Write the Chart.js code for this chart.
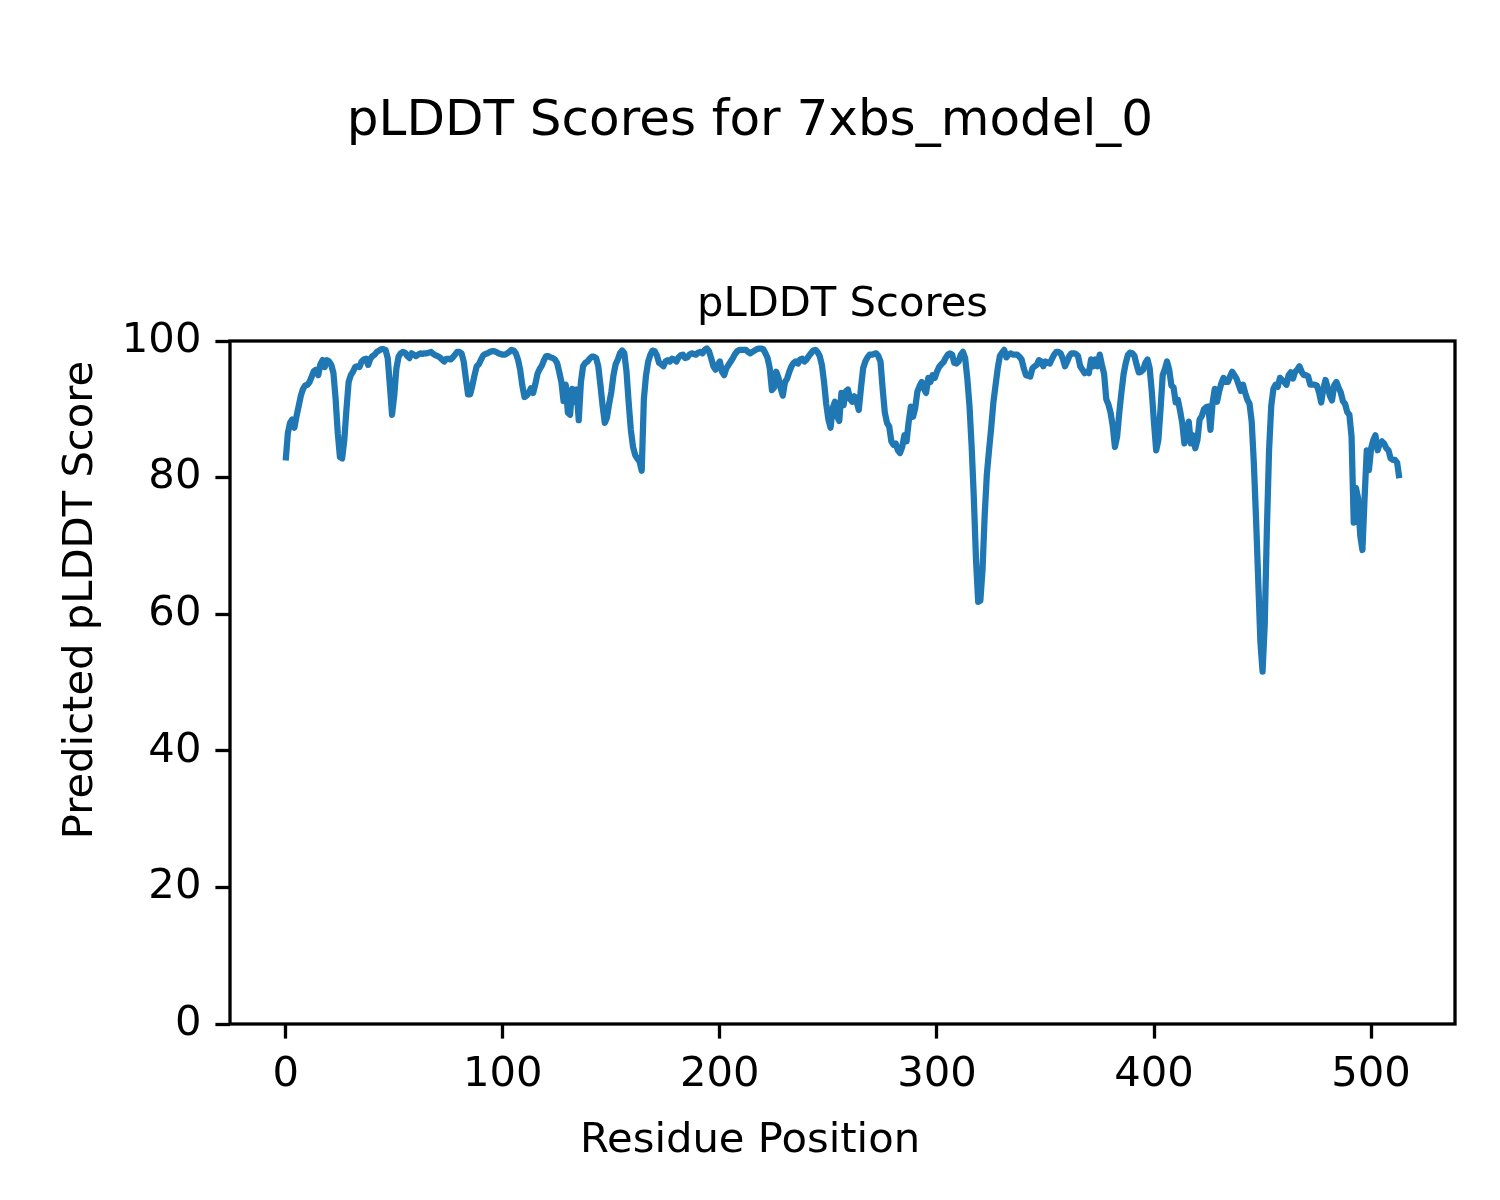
<!DOCTYPE html>
<html>
<head>
<meta charset="utf-8">
<title>pLDDT Scores for 7xbs_model_0</title>
<script src="https://cdn.jsdelivr.net/npm/chart.js@4.4.1/dist/chart.umd.min.js"></script>
<style>
  html, body { margin: 0; padding: 0; background: #fff; }
  canvas { display: block; }
</style>
</head>
<body>
<canvas id="myChart" width="1500" height="1200"></canvas>
<script>
// pLDDT per residue (residues 0..513)
const plddt = [
  82.5, 86.5, 88.0, 88.5, 87.3, 89.0, 90.5, 92.0, 93.0, 93.5,
  93.6, 94.0, 94.8, 95.6, 95.8, 95.0, 96.6, 97.2, 96.2, 97.2,
  97.0, 96.5, 95.3, 91.5, 86.5, 83.0, 82.8, 85.5, 90.0, 94.0,
  95.0, 95.5, 96.2, 96.3, 96.2, 97.0, 97.3, 97.4, 96.5, 97.4,
  97.8, 98.0, 98.4, 98.6, 98.8, 98.8, 98.7, 97.5, 93.5, 89.2,
  92.0, 96.0, 97.7, 98.2, 98.4, 98.3, 97.8, 97.5, 98.2, 98.0,
  97.8, 98.0, 98.2, 98.1, 98.2, 98.2, 98.3, 98.4, 98.1, 97.9,
  97.8, 97.6, 97.3, 97.0, 97.4, 97.4, 97.3, 97.6, 98.0, 98.4,
  98.4, 98.2, 97.0, 94.5, 92.2, 92.2, 93.5, 95.0, 96.3, 96.6,
  97.3, 97.9, 98.1, 98.2, 98.4, 98.5, 98.5, 98.4, 98.2, 98.1,
  98.0, 98.0, 98.2, 98.4, 98.7, 98.6, 98.2, 97.3, 95.8, 93.5,
  91.8, 92.0, 92.4, 93.1, 92.4, 93.7, 95.2, 95.9, 96.4, 97.2,
  97.8, 97.8, 97.6, 97.5, 97.3, 96.8, 95.5, 94.0, 91.2, 93.6,
  89.5, 89.2, 93.0, 91.1, 92.9, 88.4, 94.0, 96.3, 96.8, 97.0,
  97.4, 97.7, 97.7, 97.5, 96.3, 93.5, 90.5, 88.0, 88.8, 90.8,
  92.5, 95.0, 96.6, 97.3, 98.2, 98.6, 98.2, 95.5, 91.0, 87.0,
  84.5, 83.3, 82.8, 82.4, 81.0, 91.5, 95.0, 97.0, 98.0, 98.6,
  98.5, 97.9, 96.8, 96.6, 96.3, 97.0, 97.2, 97.0, 97.4, 97.3,
  97.0, 97.6, 97.9, 98.0, 97.5, 97.6, 98.0, 98.2, 98.1, 98.0,
  98.3, 98.4, 98.2, 98.7, 98.9, 98.5, 97.5, 96.3, 95.8, 96.5,
  97.0, 95.5, 95.0, 96.0, 96.5, 97.0, 97.5, 98.1, 98.5, 98.7,
  98.7, 98.7, 98.7, 98.4, 98.2, 98.4, 98.6, 98.8, 98.9, 98.9,
  98.8, 98.2, 97.5, 96.0, 92.8, 93.2, 95.5, 94.6, 93.1, 92.0,
  94.0, 94.5, 95.5, 96.3, 96.8, 97.0, 96.7, 97.3, 97.4, 97.0,
  97.3, 97.8, 98.2, 98.6, 98.7, 98.4, 97.8, 96.5, 94.0, 90.8,
  88.5, 87.3, 90.2, 91.1, 89.0, 88.3, 92.4, 90.6, 92.6, 92.9,
  91.5, 91.1, 91.9, 91.1, 89.9, 93.1, 96.0, 97.0, 97.6, 98.0,
  98.0, 98.1, 98.2, 97.8, 97.0, 93.0, 89.5, 88.0, 87.5, 85.3,
  84.8, 85.0, 84.0, 83.6, 84.5, 86.2, 85.3, 88.2, 90.4, 88.9,
  90.2, 92.6, 93.4, 94.0, 93.0, 92.4, 94.6, 94.0, 95.0, 94.6,
  95.5, 96.2, 96.6, 96.9, 97.5, 98.0, 98.2, 98.0, 96.8, 96.7,
  97.0, 98.0, 98.4, 97.5, 94.5, 90.5, 84.5, 77.0, 68.0, 61.8,
  62.0, 66.5, 74.5, 80.5, 84.0, 87.3, 91.0, 93.5, 96.0, 97.8,
  98.3, 98.7, 97.6, 98.0, 98.2, 98.0, 98.0, 98.0, 97.7, 97.3,
  96.0, 95.0, 94.9, 94.8, 96.0, 96.3, 96.5, 97.2, 97.0, 96.3,
  97.0, 96.8, 96.7, 97.4, 98.0, 98.4, 98.4, 98.2, 97.4, 96.3,
  97.0, 97.8, 98.2, 98.2, 98.1, 97.8, 96.3, 95.8, 95.3, 95.5,
  95.3, 97.3, 96.3, 97.3, 96.3, 98.0, 96.5, 95.2, 91.5, 90.7,
  89.5, 87.5, 84.5, 86.0, 89.5, 92.5, 95.2, 96.8, 98.0, 98.3,
  98.2, 97.8, 96.5, 95.4, 95.5, 95.8, 96.8, 97.3, 96.0, 92.5,
  88.0, 84.0, 85.5, 90.0, 95.0, 95.9, 97.0, 95.8, 93.5, 93.2,
  91.0, 91.4, 89.8, 88.0, 85.0, 86.5, 88.2, 85.0, 86.2, 84.3,
  85.5, 88.5, 89.0, 90.0, 90.3, 90.4, 87.0, 91.0, 93.0, 91.1,
  92.6, 93.8, 94.6, 94.0, 94.0, 94.8, 95.5, 95.0, 94.5, 93.6,
  92.7, 93.6, 92.4, 91.4, 90.8, 88.2, 82.0, 74.0, 65.0, 56.0,
  51.6, 58.5, 72.5, 84.0, 90.5, 93.0, 93.6, 93.3, 94.6, 94.3,
  94.0, 93.6, 95.0, 95.4, 94.5, 95.5, 95.8, 96.3, 95.5, 95.0,
  95.0, 94.8, 93.6, 93.6, 93.6, 93.5, 92.5, 91.0, 93.0, 94.3,
  93.2, 92.0, 91.3, 93.5, 94.0, 93.2, 92.5, 91.2, 90.8, 89.6,
  89.2, 86.0, 73.4, 78.5, 77.0, 71.5, 69.4, 77.0, 84.0, 81.1,
  84.3, 85.5, 86.2, 84.0, 85.0, 85.3, 85.0, 84.3, 84.0, 82.8,
  82.6, 82.6, 82.2, 79.9
];
const xTicks = [0, 100, 200, 300, 400, 500];
const yTicks = [0, 20, 40, 60, 80, 100];

const figTitle = 'pLDDT Scores for 7xbs_model_0';
const axTitle = 'pLDDT Scores';
const xLabel = 'Residue Position';
const yLabel = 'Predicted pLDDT Score';

const FONT = '"DejaVu Sans", sans-serif';
const n = plddt.length - 1;
const pad = n * 0.05;

// titles, axis labels and the box, drawn like matplotlib does
const figText = {
  id: 'figText',
  afterDraw(chart) {
    const ctx = chart.ctx;
    const a = chart.chartArea;
    ctx.save();
    ctx.strokeStyle = '#000';
    ctx.lineWidth = 3.3;
    ctx.strokeRect(a.left, a.top, a.right - a.left, a.bottom - a.top);
    ctx.fillStyle = '#000';
    ctx.textAlign = 'center';
    ctx.textBaseline = 'alphabetic';
    ctx.font = `50px ${FONT}`;
    ctx.fillText(figTitle, 750, 135);
    ctx.font = `41.7px ${FONT}`;
    ctx.fillText(axTitle, (a.left + a.right) / 2, a.top - 25);
    ctx.fillText(xLabel, 750, 1152);
    ctx.translate(92, 600);
    ctx.rotate(-Math.PI / 2);
    ctx.fillText(yLabel, 0, 0);
    ctx.restore();
  }
};

const data = {
  datasets: [{
    data: plddt.map((v, i) => ({x: i, y: v})),
    borderColor: '#1f77b4',
    borderWidth: 6.25,
    borderJoinStyle: 'round',
    pointRadius: 0,
    tension: 0,
    fill: false,
  }]
};

const config = {
  type: 'line',
  data: data,
  options: {
    responsive: false,
    animation: false,
    events: [],
    layout: {padding: {left: 0, right: 45, top: 341, bottom: 0}},
    plugins: {
      legend: {display: false},
      title: {display: false},
      tooltip: {enabled: false},
    },
    scales: {
      x: {
        type: 'linear',
        min: -pad,
        max: n + pad,
        afterBuildTicks: s => { s.ticks = xTicks.map(v => ({value: v})); },
        afterFit: s => { s.height = 176; },
        grid: {drawOnChartArea: false, drawTicks: true, tickLength: 14.6, tickWidth: 3.3, tickColor: '#000'},
        border: {display: false},
        ticks: {color: '#000', padding: 12, font: {family: FONT, size: 41.7}, maxRotation: 0},
      },
      y: {
        type: 'linear',
        min: 0,
        max: 100,
        afterBuildTicks: s => { s.ticks = yTicks.map(v => ({value: v})); },
        afterFit: s => { s.width = 230; },
        grid: {drawOnChartArea: false, drawTicks: true, tickLength: 14.6, tickWidth: 3.3, tickColor: '#000'},
        border: {display: false},
        ticks: {color: '#000', padding: 14, font: {family: FONT, size: 41.7}},
      }
    }
  },
  plugins: [figText]
};

const myChart = new Chart(document.getElementById('myChart'), config);
</script>
</body>
</html>
